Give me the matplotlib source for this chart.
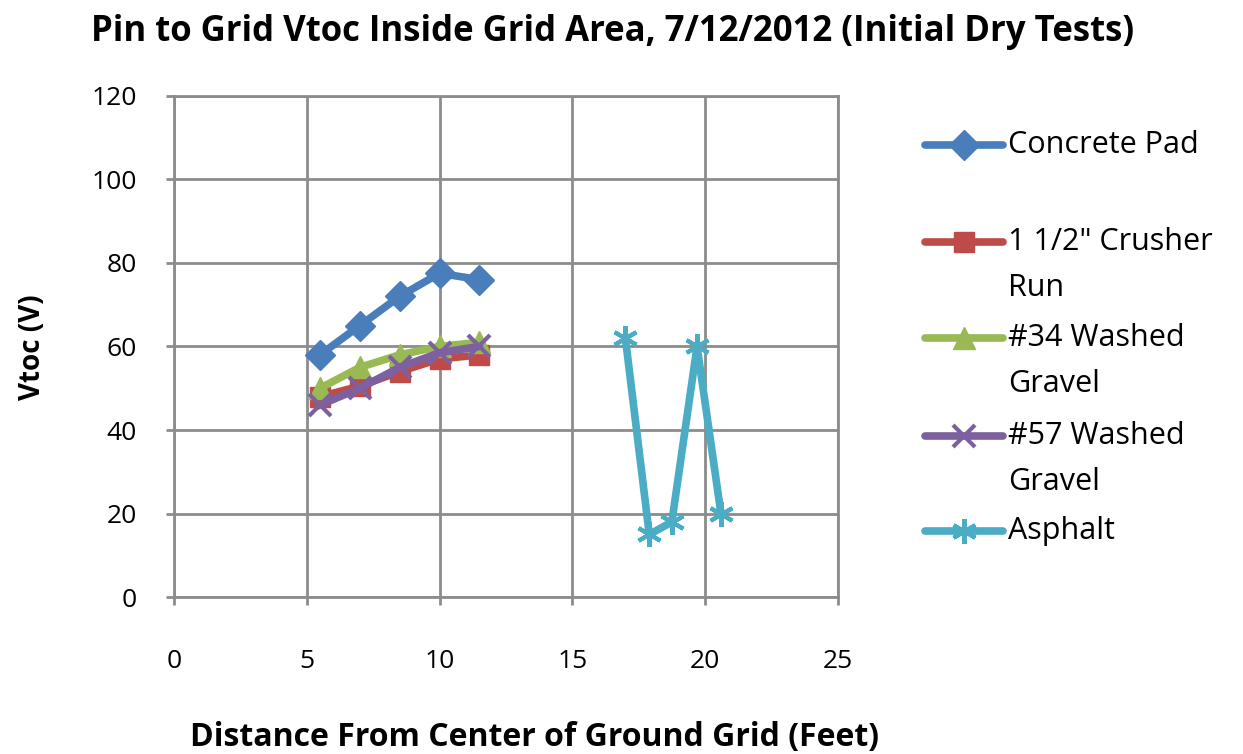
import numpy as np
import matplotlib.pyplot as plt
from matplotlib.lines import Line2D

plt.rcParams['font.family'] = ['Open Sans', 'DejaVu Sans']

# Measured Vtoc values (distance in feet, voltage in V)
concrete_x = [5.5, 7.0, 8.5, 10.0, 11.5]
concrete_y = [58, 65, 72, 77.5, 76]
crusher_x = [5.5, 7.0, 8.5, 10.0, 11.5]
crusher_y = [48, 50.5, 54, 57, 58]
washed34_x = [5.5, 7.0, 8.5, 10.0, 11.5]
washed34_y = [50, 55, 58, 60, 61]
washed57_x = [5.5, 7.0, 8.5, 10.0, 11.5]
washed57_y = [46, 50, 55, 58.5, 60]
asphalt_x = [17.0, 17.9, 18.75, 19.7, 20.6]
asphalt_y = [62, 15, 18, 60, 20]

series = [
    ("Concrete Pad", concrete_x, concrete_y, "#4a7ebb", "D", 15),
    ("1 1/2\" Crusher\nRun", crusher_x, crusher_y, "#be4b48", "s", 15),
    ("#34 Washed\nGravel", washed34_x, washed34_y, "#98b954", "^", 16),
    ("#57 Washed\nGravel", washed57_x, washed57_y, "#7d60a0", "x", 16),
    ("Asphalt", asphalt_x, asphalt_y, "#4bacc6", (6, 2, 0), 18),
]

fig = plt.figure(figsize=(12.43, 7.54), dpi=100)
ax = fig.add_axes([0.140, 0.208, 0.534, 0.665])

for name, xs, ys, color, marker, ms in series:
    ax.plot(xs, ys, color=color, lw=5.5, marker=marker, ms=ms,
            mew=3 if marker in ("x", (6, 2, 0)) else 1, mec=color, mfc=color,
            solid_joinstyle="round")

ax.set_xlim(0, 25)
ax.set_ylim(0, 120)
ax.set_xticks(np.arange(0, 26, 5))
ax.set_yticks(np.arange(0, 121, 20))
ax.grid(True, color="#8c8c8c", lw=2)
ax.set_axisbelow(True)
for s in ax.spines.values():
    s.set_color("#8c8c8c")
    s.set_linewidth(2)
ax.tick_params(axis="x", length=6, width=2, color="#8c8c8c", labelsize=19, pad=31, direction="out")
ax.tick_params(axis="y", length=6, width=2, color="#8c8c8c", labelsize=19, pad=21, direction="out")

fig.text(0.493, 0.958, "Pin to Grid Vtoc Inside Grid Area, 7/12/2012 (Initial Dry Tests)",
         ha="center", va="center", fontsize=25, fontweight="bold")
fig.text(0.430, 0.022, "Distance From Center of Ground Grid (Feet)",
         ha="center", va="center", fontsize=23, fontweight="bold")
fig.text(0.026, 0.54, "Vtoc (V)", ha="center", va="center", rotation=90,
         fontsize=20, fontweight="bold")

# Legend entries, first text line aligned with the handle
legend_y = [145, 242, 338, 436, 531]
line_gap = 46
H = 754.0
W = 1243.0
for (name, xs, ys, color, marker, ms), py in zip(series, legend_y):
    yf = 1 - py / H
    fig.add_artist(Line2D([925 / W, 1003 / W], [yf, yf], color=color, lw=5.5,
                          solid_capstyle="round", transform=fig.transFigure))
    fig.add_artist(Line2D([964 / W], [yf], marker=marker, ms=ms, color=color,
                          mew=3 if marker in ("x", (6, 2, 0)) else 1,
                          transform=fig.transFigure))
    for i, part in enumerate(name.split("\n")):
        fig.text(1008 / W, 1 - (py + i * line_gap) / H, part, ha="left",
                 va="center", fontsize=22)

plt.savefig("out.png", dpi=100)
